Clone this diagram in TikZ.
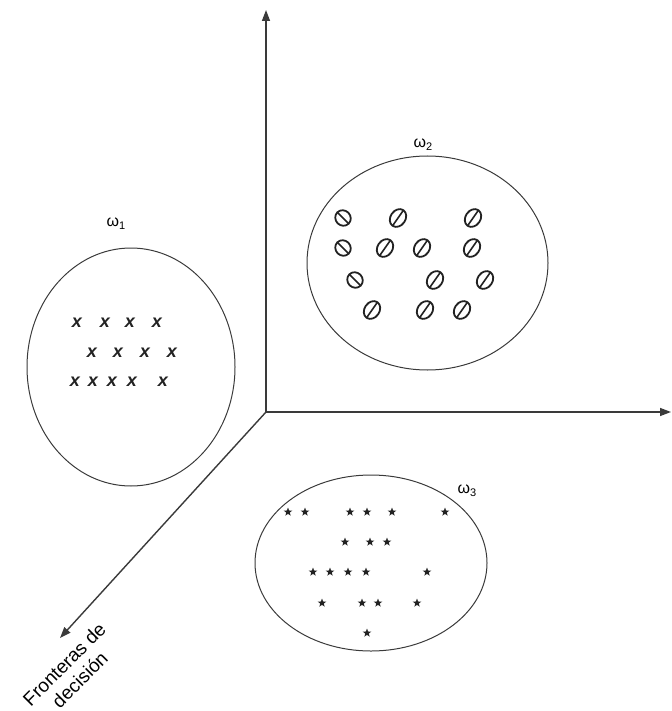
\documentclass[tikz,border=0pt]{standalone}
\usepackage{fontspec}
\setmainfont{Liberation Sans}
\usetikzlibrary{arrows.meta,shapes.geometric}
\definecolor{ink}{HTML}{3A3A3A}
\definecolor{glyph}{HTML}{222222}
\newcommand{\classname}[1]{ω\raisebox{-3pt}{\fontsize{11}{11}\selectfont #1}}
\begin{document}
\begin{tikzpicture}[x=1pt,y=-1pt,
  axis/.style={draw=ink,line width=1.4pt,-{Triangle[length=11pt,width=8pt]}},
  cluster/.style={draw=ink,line width=1pt},
  classlabel/.style={font=\fontsize{16}{16}\selectfont,inner sep=0pt},
  xmark/.style={font=\fontsize{18}{18}\selectfont\bfseries\itshape,inner sep=0pt,text=glyph},
  starmark/.style={star,star points=5,star point ratio=2.4,fill=glyph,draw=none,inner sep=0pt,minimum size=9pt},
  ringA/.pic={
    \draw[glyph,line width=1.8pt] (0,0) ellipse [x radius=8pt,y radius=7.5pt];
    \draw[glyph,line width=1.6pt] (-8pt,0) -- (8pt,0);},
  ringB/.pic={
    \draw[glyph,line width=1.8pt] (0,0) ellipse [x radius=9.5pt,y radius=7.5pt];
    \draw[glyph,line width=1.6pt] (-9.5pt,0) -- (9.5pt,0);}]
\useasboundingbox (0,0) rectangle (671,711);

% axes
\coordinate (O) at (266,412);
\coordinate (up) at (266,10);
\coordinate (right) at (671,412);
\coordinate (down) at (60,638);
\draw[axis] (O) -- (up);
\draw[axis] (O) -- (right);
\draw[axis] (O) -- (down);

\node[rotate=45,align=center,font=\fontsize{19}{22}\selectfont,inner sep=0pt] (fd) at (72,672)
  {Fronteras de\\decisión};

% class 1: crosses
\draw[cluster] (131,367) ellipse [x radius=104pt,y radius=119pt];
\node[classlabel] (w1) at (116,224) {\classname{1}};
\foreach \px/\py [count=\i] in {77/323,105/323,130/323,157/323,
                                92/353,118/353,145/353,172/353,
                                75/382,93/382,112/382,132/382,163/382}
  \node[xmark] (x\i) at (\px,\py) {x};

% class 2: slashed rings
\draw[cluster] (427.5,263) ellipse [x radius=120.5pt,y radius=107pt];
\node[classlabel] (w2) at (423,145) {\classname{2}};
\foreach \px/\py [count=\i] in {343/218,343/248,355/280}
  \pic[rotate=-45] (a\i) at (\px,\py) {ringA};
\foreach \px/\py [count=\i] in {398/218,473/218,
                                385/248,422/248,472/248,
                                435/280,485/280,
                                372/310,425/310,462/310}
  \pic[rotate=55] (b\i) at (\px,\py) {ringB};

% class 3: stars
\draw[cluster] (371,563) ellipse [x radius=116pt,y radius=88pt];
\node[classlabel] (w3) at (467,491) {\classname{3}};
\foreach \px/\py [count=\i] in {288/512,305/512,350/512,367/512,392/512,445/512,
                                345/542,370/542,387/542,
                                313/572,330/572,348/572,366/572,427/572,
                                322/603,362/603,378/603,417/603,
                                367/633}
  \node[starmark] (s\i) at (\px,\py) {};
\end{tikzpicture}
\end{document}
